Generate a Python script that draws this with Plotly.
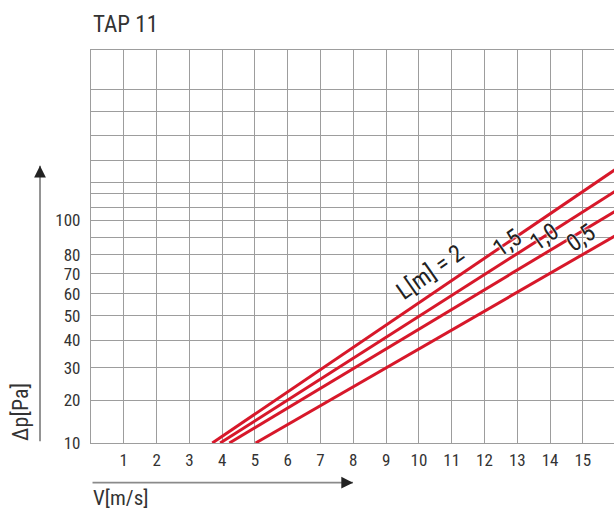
import numpy as np
import plotly.graph_objects as go

# ---- data ----
lengths = ["2", "1,5", "1,0", "0,5"]
v_start = [3.70, 3.94, 4.22, 5.02]
dp_start = [10, 10, 10, 10]
v_end = [16.0, 16.0, 16.0, 16.0]
dp_end = [134, 119, 106, 91]

x_ticks = list(range(1, 16))
y_grid_vals = [10, 20, 30, 40, 50, 60, 70, 80, 90, 100, 108, 117, 125, 140, 159, 178, 197]
y_grid_text = ["10", "20", "30", "40", "50", "60", "70", "80", "", "100", "", "", "", "", "", "", ""]
y_top = 232.3

label_text = ["L[m] = 2", "1,5", "1,0", "0,5"]
label_v = [10.35, 12.69, 13.81, 14.94]
label_dp = [71.0, 86.8, 90.2, 89.3]

RED = "#d7182a"
GRID = "#9d9d9d"
TXT = "#333333"
FONT = "Liberation Sans Narrow, Roboto Condensed, Roboto, sans-serif"

fig = go.Figure()
for i in range(len(lengths)):
    fig.add_trace(go.Scatter(
        x=[v_start[i], v_end[i]],
        y=np.sqrt([dp_start[i], dp_end[i]]),
        mode="lines",
        line=dict(color=RED, width=3),
        showlegend=False,
        hoverinfo="skip",
    ))

annotations = []
for t, v, d in zip(label_text, label_v, label_dp):
    annotations.append(dict(
        x=v, y=float(np.sqrt(d)), xref="x", yref="y", text=t, showarrow=False,
        textangle=-35,
        font=dict(family=FONT, size=24, color="#222222",
                  shadow="0 0 2px white, 0 0 2px white, 0 0 1px white"),
    ))

# axis arrows
annotations += [
    dict(x=-0.0975, y=0.7054, xref="paper", yref="paper", ax=0, ay=277,
         axref="pixel", ayref="pixel", text="", showarrow=True, arrowhead=0,
         arrowwidth=1.8, arrowcolor="#8a8a8a"),
    dict(x=-0.0975, y=0.7054, xref="paper", yref="paper", ax=0, ay=6,
         axref="pixel", ayref="pixel", text="", showarrow=True, arrowhead=2,
         arrowsize=1.3, arrowwidth=1.8, arrowcolor="#222222"),
    dict(x=0.501, y=-0.101, xref="paper", yref="paper", ax=-262, ay=0,
         axref="pixel", ayref="pixel", text="", showarrow=True, arrowhead=0,
         arrowwidth=1.8, arrowcolor="#8a8a8a"),
    dict(x=0.501, y=-0.101, xref="paper", yref="paper", ax=-6, ay=0,
         axref="pixel", ayref="pixel", text="", showarrow=True, arrowhead=2,
         arrowsize=1.3, arrowwidth=1.8, arrowcolor="#222222"),
    dict(x=0.0, y=-0.141, xref="paper", yref="paper", text="V[m/s]",
         showarrow=False, xanchor="left", yanchor="middle",
         font=dict(family=FONT, size=21, color=TXT)),
    dict(x=-0.1338, y=0.079, xref="paper", yref="paper", text="Δp[Pa]",
         showarrow=False, textangle=-90, xanchor="center", yanchor="middle",
         font=dict(family=FONT, size=22, color=TXT)),
    dict(x=0.0, y=1.066, xref="paper", yref="paper", text="TAP 11",
         showarrow=False, xanchor="left", yanchor="middle",
         font=dict(family=FONT, size=23, color=TXT)),
]

fig.update_layout(
    width=614, height=511,
    margin=dict(l=91, r=0, t=50, b=68),
    plot_bgcolor="white", paper_bgcolor="white",
    annotations=annotations,
    xaxis=dict(
        range=[0, 15.95], tickvals=x_ticks, ticktext=[str(v) for v in x_ticks],
        showgrid=True, gridcolor=GRID, gridwidth=1.3,
        showline=True, linecolor=GRID, linewidth=1.3, mirror=True,
        zeroline=False, ticks="", ticklabelstandoff=1,
        tickfont=dict(family=FONT, size=17, color=TXT),
    ),
    yaxis=dict(
        range=[float(np.sqrt(10)), float(np.sqrt(y_top))],
        tickvals=list(np.sqrt(y_grid_vals)), ticktext=y_grid_text,
        showgrid=True, gridcolor=GRID, gridwidth=1.3,
        showline=True, linecolor=GRID, linewidth=1.3,
        zeroline=False, ticks="", ticklabelstandoff=6,
        tickfont=dict(family=FONT, size=17, color=TXT),
    ),
)

fig.write_html(
    "out.html",
    config={"displayModeBar": False},
    post_script="document.body.style.margin='0';document.body.style.overflow='hidden';",
)
